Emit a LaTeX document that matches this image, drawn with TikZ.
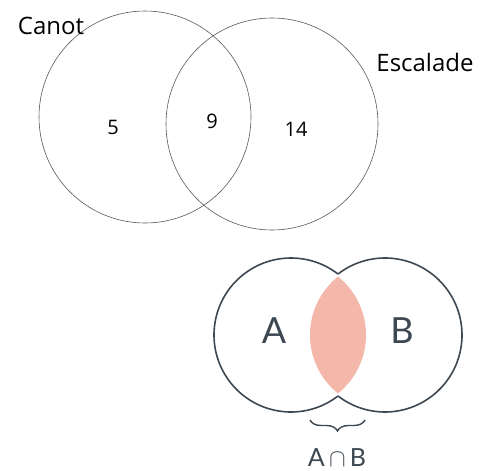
\documentclass[tikz,border=0pt]{standalone}
\usepackage{fontspec}
\setmainfont{Open Sans}
\newfontfamily\latofont{Lato}
\usetikzlibrary{decorations.pathreplacing}
\definecolor{slate}{HTML}{3D4852}
\definecolor{lenspink}{HTML}{F4B8AA}
\begin{document}
\begin{tikzpicture}[x=1pt,y=-1pt,
  thincircle/.style={draw=black!65, line width=0.6pt},
  hand/.style={font=\fontsize{24}{28}\selectfont, text=black},
  num/.style={font=\fontsize{20}{23}\selectfont, text=black},
  slatecircle/.style={draw=slate, line width=1.6pt},
  big/.style={font=\latofont\fontsize{36}{40}\selectfont, text=slate, anchor=base},
  mid/.style={font=\latofont\fontsize{25}{30}\selectfont, text=slate, anchor=base, inner sep=0pt}]
\useasboundingbox (0,0) rectangle (490,471);
\fill[white] (0,0) rectangle (490,471);
% top diagram
\coordinate (C1) at (145,117);
\coordinate (C2) at (272,124);
\draw[thincircle] (C1) circle[radius=106];
\draw[thincircle] (C2) circle[radius=106];
\node[hand] (canot) at (51,26) {Canot};
\node[hand] (escalade) at (425,62) {Escalade};
\node[num] (n5) at (113,127) {5};
\node[num] (n9) at (212,121) {9};
\node[num] (n14) at (296,129) {14};
% bottom diagram
\coordinate (A) at (291,335);
\coordinate (B) at (385,335);
\begin{scope}
  \clip (A) circle[radius=75];
  \fill[lenspink] (B) circle[radius=75];
\end{scope}
\draw[slatecircle] (A) ++(52.4:77) arc[start angle=52.4, end angle=307.6, radius=77];
\draw[slatecircle] (B) ++(232.4:77) arc[start angle=232.4, end angle=487.6, radius=77];
\node[big] (la) at (274,343) {A};
\node[big] (lb) at (402,343) {B};
\coordinate (br1) at (310,420);
\coordinate (br2) at (365,420);
\draw[slate, line width=1.4pt, decorate, decoration={brace, amplitude=11pt, mirror}] (br1) -- (br2);
\node[mid] (ab) at (337,466) {A\,$\cap$\,B};
\end{tikzpicture}
\end{document}
